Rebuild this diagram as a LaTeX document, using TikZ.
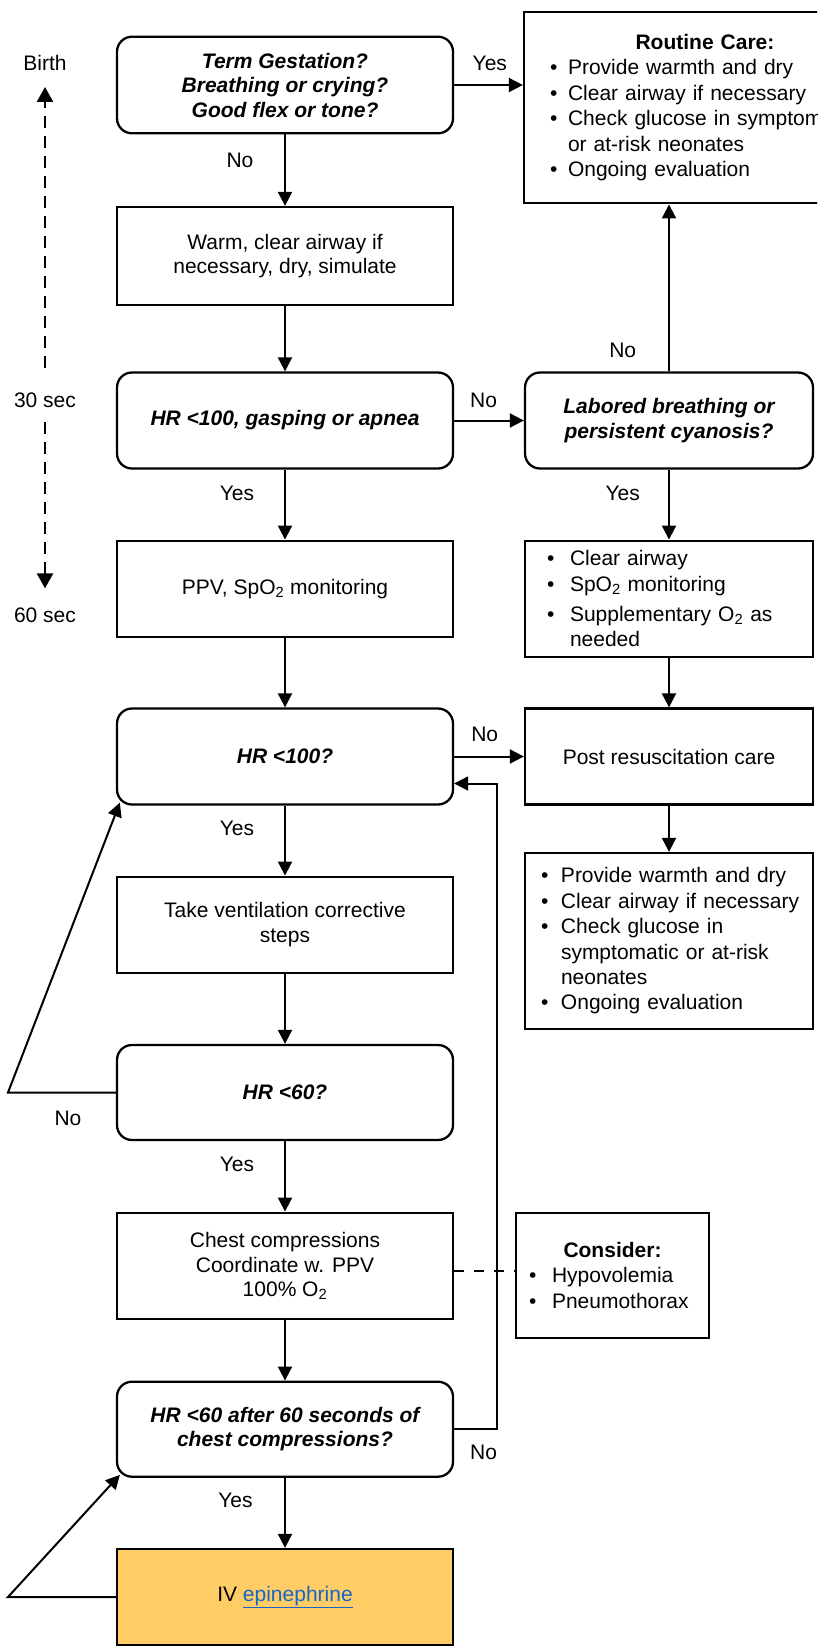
\documentclass[tikz,border=0pt]{standalone}
\usepackage{fontspec}
\setmainfont{Liberation Sans}
\usetikzlibrary{arrows.meta,calc}
\definecolor{epifill}{RGB}{255,204,102}
\definecolor{linkblue}{RGB}{22,102,200}
% bullet column used in the list boxes (optional width)
\newcommand{\bl}[1][23pt]{\makebox[#1][l]{\textbullet}}
\newcommand{\hb}[1][23pt]{\hspace*{#1}}

\begin{document}
\begin{tikzpicture}[x=1pt,y=-1pt,
  every node/.style={font=\fontsize{21}{24.5}\selectfont},
  box/.style={draw, line width=2.3pt, minimum width=336pt, align=center, inner sep=4pt},
  rbox/.style={box, rounded corners=15pt},
  qbox/.style={rbox, font=\fontsize{21}{24.5}\selectfont\bfseries\itshape},
  listbox/.style={draw, line width=2.3pt, align=left, font=\fontsize{21}{25.4}\selectfont},
  lbl/.style={inner sep=0pt},
  arr/.style={line width=2pt, -{Triangle[length=14pt,width=14pt]}},
  conn/.style={line width=2pt},
  timeline/.style={line width=2.5pt, dash pattern=on 12pt off 8pt, -{Triangle[length=15pt,width=16pt]}},
]
\path[use as bounding box] (0,0) rectangle (817,1649);
\clip (0,0) rectangle (817,1649);
\fill[white] (0,0) rectangle (817,1649);

% time scale on the left
\node[lbl] (birth) at (45,62.7) {Birth};
\node[lbl] (t30) at (45,400) {30 sec};
\node[lbl] (t60) at (45,615) {60 sec};
\draw[timeline, shorten <=24.4pt, shorten >=16.4pt] (t30) -- (birth);
\draw[timeline, shorten <=14pt, shorten >=19pt] (t30) -- (t60);

% main column
\node[qbox, minimum height=96.6pt] (b1) at (285,85) {Term Gestation?\\Breathing or crying?\\Good flex or tone?};
\node[box, minimum height=98pt] (b2) at (285,256) {Warm, clear airway if\\necessary, dry, simulate};
\node[qbox, minimum height=96pt] (b3) at (285,420.5) {HR <100, gasping or apnea};
\node[box, minimum height=96pt] (b4) at (285,588.7) {PPV, SpO\textsubscript{2} monitoring};
\node[qbox, minimum height=96pt] (b5) at (285,756.5) {HR <100?};
\node[box, minimum height=96pt] (b6) at (285,924.7) {Take ventilation corrective\\steps};
\node[qbox, minimum height=95pt] (b7) at (285,1092.5) {HR <60?};
\node[box, minimum height=106.6pt] (b8) at (285,1266) {Chest compressions\\Coordinate w. PPV\\100\% O\textsubscript{2}};
\node[qbox, minimum height=95pt] (b9) at (285,1429.2) {HR <60 after 60 seconds of\\chest compressions?};
\node[box, fill=epifill, minimum height=96pt] (b10) at (285,1597) {IV \textcolor{linkblue}{\underline{epinephrine}}};

% right column
\node[listbox, minimum width=362pt, minimum height=191.6pt, text width=310pt, inner xsep=26pt] (rc) at (705,107.5)
  {{\centering\bfseries Routine Care:\par}\bl[18pt]Provide warmth and dry\\\bl[18pt]Clear airway if necessary\\\mbox{\bl[18pt]Check glucose in symptomatic}\\\hb[18pt]or at-risk neonates\\\bl[18pt]Ongoing evaluation};
\node[qbox, minimum width=288pt, minimum height=96pt] (r1) at (669,420.5) {Labored breathing or\\persistent cyanosis?};
\node[listbox, minimum width=288pt, minimum height=116pt, text width=244pt, inner xsep=22pt] (r2) at (669,598.7)
  {\bl Clear airway\\\bl SpO\textsubscript{2} monitoring\\[5pt]\bl Supplementary O\textsubscript{2} as\\\hb needed};
\node[box, minimum width=288pt, minimum height=96pt] (r3) at (669,756.5) {Post resuscitation care};
\node[listbox, minimum width=288pt, minimum height=176pt, text width=256pt, inner xsep=16pt] (r4) at (669,941)
  {\mbox{\bl[20pt]Provide warmth and dry}\\\mbox{\bl[20pt]Clear airway if necessary}\\\bl[20pt]Check glucose in\\\mbox{\hb[20pt]symptomatic or at-risk}\\\hb[20pt]neonates\\\mbox{\bl[20pt]Ongoing evaluation}};
\node[listbox, minimum width=193pt, minimum height=125pt, text width=167pt, inner xsep=13pt] (cons) at (612.5,1275.2)
  {{\centering\bfseries Consider:\par}\bl Hypovolemia\\\bl Pneumothorax};

% branch labels
\node[lbl] (y1) at (489.8,63.3) {Yes};
\node[lbl] (n1) at (240,160) {No};
\node[lbl] (n2) at (483.6,400) {No};
\node[lbl] (n3) at (622.7,350) {No};
\node[lbl] (y2) at (237,493.3) {Yes};
\node[lbl] (y3) at (622.7,493) {Yes};
\node[lbl] (n4) at (484.7,734) {No};
\node[lbl] (y4) at (237,828.6) {Yes};
\node[lbl] (n5) at (68,1118) {No};
\node[lbl] (y5) at (237,1164) {Yes};
\node[lbl] (n6) at (483.6,1452.7) {No};
\node[lbl] (y6) at (235.5,1500) {Yes};

% connectors
\draw[arr] (b1.east) -- (b1.east -| rc.west);
\draw[arr] (b1) -- (b2);
\draw[arr] (b2) -- (b3);
\draw[arr] (b3) -- (r1);
\draw[arr] (r1.north) -- (r1.north |- rc.south);
\draw[arr] (b3) -- (b4);
\draw[arr] (r1) -- (r2);
\draw[arr] (b4) -- (b5);
\draw[arr] (r2) -- (r3);
\draw[arr] (b5) -- (r3);
\draw[arr] (r3) -- (r4);
\draw[arr] (b5) -- (b6);
\draw[arr] (b6) -- (b7);
\coordinate (nl) at (8,1092.5);
\draw[arr] (b7.west) -- (nl) -- ($(b5.south west)+(4,-3)$);
\draw[arr] (b7) -- (b8);
\coordinate (dz) at ($(b8.east)+(0,5)$);
\draw[conn, dash pattern=on 10pt off 10pt] (dz) -- (dz -| cons.west);
\draw[arr] (b8) -- (b9);
\coordinate (rt) at ($(b5.east)+(0,27)$);
\coordinate (rx) at (497,1429.2);
\draw[arr] (b9.east) -- (rx) |- (rt);
\draw[arr] (b9) -- (b10);
\coordinate (el) at (8,1597);
\draw[arr] (b10.west) -- (el) -- ($(b9.south west)+(4,-3)$);
\end{tikzpicture}
\end{document}
